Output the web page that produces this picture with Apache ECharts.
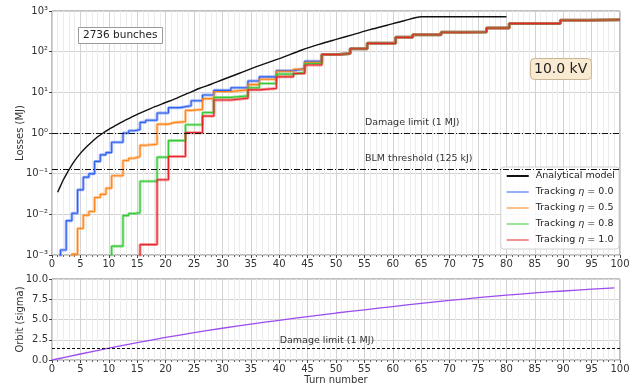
<!DOCTYPE html>
<html>
<head>
<meta charset="utf-8">
<script src="https://cdn.jsdelivr.net/npm/echarts@6/dist/echarts.min.js"></script>
<style>
  html, body { margin: 0; padding: 0; background: #fff; }
  #myChart { width: 634px; height: 390px; }
</style>
</head>
<body>
<div id="myChart"></div>
<script>
// analytical model (turn, MJ)
const modelTurns = [1, 1.5, 2, 2.5, 3, 4, 5, 6, 7, 8, 9, 10, 11, 12, 13, 14, 15, 16, 17, 18, 20, 22, 24, 26, 28, 30, 33, 36, 40, 44, 47, 50, 53, 56, 59, 62, 65, 80]
const modelLoss = [0.035, 0.050, 0.071, 0.095, 0.126, 0.209, 0.316, 0.447, 0.603, 0.794, 1.0, 1.23, 1.48, 1.78, 2.09, 2.45, 2.88, 3.31, 3.80, 4.37, 5.62, 7.24, 9.55, 12.6, 15.8, 20.4, 29.5, 42.7, 67.6, 110, 151, 200, 263, 347, 447, 575, 720, 720]

// tracking: step edges (turn) and losses after the edge (MJ)
const tailEdges = [47.5, 50.5, 52.5, 55.5, 60.5, 63.5, 68.5, 72.5, 76.5, 80.5, 89.5, 94.5, 100]
const tailLoss = [85, 90, 118, 160, 225, 260, 300, 305, 380, 490, 590, 610, 620]

const eta00Edges = [1, 1.5, 2.5, 3.5, 4.5, 5.5, 6.5, 7.5, 8.5, 9.5, 10.5, 12.5, 13.5, 14.5, 15.5, 16.5, 18.5, 20.5, 22.5, 24.5, 26.5, 28.5, 31.5, 34.5, 36.5, 39.5, 42.5, 44.5]
const eta00Loss = [0.0001, 0.00133, 0.007, 0.0106, 0.040, 0.082, 0.099, 0.20, 0.29, 0.33, 0.59, 1.0, 1.14, 1.21, 1.83, 2.05, 3.1, 4.2, 4.7, 6.2, 8.6, 11.2, 13, 19, 24, 34, 38, 58]

const eta05Edges = [3, 3.5, 4.5, 5.5, 6.5, 7.5, 8.5, 9.5, 10.5, 12.5, 13.5, 14.5, 15.5, 16.5, 18.5, 20.5, 21.5, 23.5, 24.5, 26.5, 28.5, 31.5, 34.5, 36.5, 39.5, 42.5, 44.5]
const eta05Loss = [0.0001, 0.00105, 0.0045, 0.0095, 0.0117, 0.026, 0.031, 0.044, 0.089, 0.21, 0.24, 0.265, 0.50, 0.53, 1.65, 1.8, 1.9, 3.6, 3.8, 7.0, 10.5, 11.5, 15.5, 21, 33, 37, 55]

const eta08Edges = [10, 10.5, 12.5, 13.5, 14.5, 15.5, 18.5, 20.5, 23.5, 26.5, 28.5, 31.5, 34.5, 36.5, 39.5, 42.5, 44.5]
const eta08Loss = [0.0001, 0.00165, 0.0093, 0.0105, 0.011, 0.065, 0.255, 0.65, 1.6, 3.2, 7.5, 8.2, 13, 16.5, 28, 31, 51]

const eta10Edges = [15, 15.5, 18.5, 20.5, 23.5, 26.5, 28.5, 31.5, 34.5, 36.5, 39.5, 42.5, 44.5]
const eta10Loss = [0.0001, 0.0018, 0.071, 0.265, 1.02, 2.6, 6.5, 7.2, 11.5, 12.5, 24, 29, 47]

// orbit (turn, sigma)
const orbitTurns = [0, 5, 10, 15, 20, 25, 30, 35, 40, 45, 50, 55, 60, 65, 70, 75, 80, 85, 90, 95, 99]
const orbitSigma = [0, 0.74, 1.46, 2.14, 2.78, 3.37, 3.92, 4.43, 4.9, 5.35, 5.8, 6.2, 6.6, 7.0, 7.35, 7.7, 8.0, 8.28, 8.52, 8.74, 8.9]

const xTicks = 5
const lossLimits = [1, 0.125]
const orbitLimit = 1.5
const font = 'DejaVu Sans'

function pairs (xs, ys) {
  return xs.map((x, i) => [x, ys[i]])
}
function stepData (edges, loss) {
  return pairs(edges.concat(tailEdges), loss.concat(tailLoss))
}
const sup = { '-': '⁻', '0': '⁰', '1': '¹', '2': '²', '3': '³' }
function logLabel (v) {
  let e = Math.round(Math.log10(v)) + ''
  return '10' + e.split('').map(c => sup[c]).join('')
}

const tracks = [
  { name: 'Tracking η = 0.0', color: '#2f5ff2', data: stepData(eta00Edges, eta00Loss) },
  { name: 'Tracking η = 0.5', color: '#ff8418', data: stepData(eta05Edges, eta05Loss) },
  { name: 'Tracking η = 0.8', color: '#35c935', data: stepData(eta08Edges, eta08Loss) },
  { name: 'Tracking η = 1.0', color: '#e8262a', data: stepData(eta10Edges, eta10Loss) }
]

let myChart = echarts.init(document.getElementById('myChart'))

let xAxisBase = function (grid) {
  return {
    type: 'value',
    gridIndex: grid,
    min: 0,
    max: 100,
    interval: xTicks,
    axisLine: { show: false },
    axisTick: { show: true, length: 3, lineStyle: { color: '#444' } },
    minorTick: { show: true, splitNumber: 5, length: 2, lineStyle: { color: '#666' } },
    axisLabel: { color: '#333', fontSize: 10, fontFamily: font, margin: 4 },
    splitLine: { show: true, lineStyle: { color: '#d2d2d2', width: 1 } },
    minorSplitLine: { show: true, lineStyle: { color: '#ececec', width: 1 } }
  }
}

let series = [
  {
    name: 'Analytical model',
    type: 'line',
    xAxisIndex: 0,
    yAxisIndex: 0,
    data: pairs(modelTurns, modelLoss),
    smooth: 0.3,
    symbol: 'none',
    color: '#111',
    lineStyle: { width: 1.4, color: '#111' },
    z: 5,
    markLine: {
      silent: true,
      symbol: 'none',
      label: { show: false },
      lineStyle: { color: '#111', width: 1, type: [6, 2, 1, 2] },
      data: lossLimits.map(v => ({ yAxis: v }))
    },
    markPoint: {
      silent: true,
      symbol: 'rect',
      symbolSize: 1,
      itemStyle: { color: 'rgba(0,0,0,0)' },
      label: {
        show: true,
        position: 'right',
        distance: 0,
        color: '#333',
        fontSize: 9.5,
        fontFamily: font,
        formatter: p => p.name
      },
      data: [
        { name: 'Damage limit (1 MJ)', coord: [55, lossLimits[0]], label: { offset: [0, -10] } },
        { name: 'BLM threshold (125 kJ)', coord: [55, lossLimits[1]], label: { offset: [0, -11] } }
      ]
    }
  }
]

tracks.forEach(t => {
  series.push({
    name: t.name,
    type: 'line',
    xAxisIndex: 0,
    yAxisIndex: 0,
    step: 'end',
    data: t.data,
    symbol: 'none',
    color: t.color,
    lineStyle: { width: 3, color: t.color, opacity: 0.45 },
    z: 3
  })
  series.push({
    name: t.name + ' ',
    type: 'line',
    xAxisIndex: 0,
    yAxisIndex: 0,
    step: 'end',
    data: t.data,
    symbol: 'none',
    color: t.color,
    lineStyle: { width: 1.1, color: t.color },
    z: 4
  })
})

series.push({
  name: 'Orbit',
  type: 'line',
  xAxisIndex: 1,
  yAxisIndex: 1,
  data: pairs(orbitTurns, orbitSigma),
  smooth: 0.3,
  symbol: 'none',
  lineStyle: { width: 1.3, color: '#9d4ced' },
  markLine: {
    silent: true,
    symbol: 'none',
    label: { show: false },
    lineStyle: { color: '#111', width: 1, type: [3, 2] },
    data: [{ yAxis: orbitLimit }]
  },
  markPoint: {
    silent: true,
    symbol: 'rect',
    symbolSize: 1,
    itemStyle: { color: 'rgba(0,0,0,0)' },
    label: {
      show: true,
      position: 'right',
      distance: 0,
      offset: [0, -7],
      color: '#333',
      fontSize: 9.5,
      fontFamily: font,
      formatter: p => p.name
    },
    data: [{ name: 'Damage limit (1 MJ)', coord: [40, orbitLimit] }]
  }
})

myChart.setOption({
  animation: false,
  textStyle: { fontFamily: font },
  title: [
    {
      text: '2736 bunches',
      left: 78,
      top: 27,
      padding: [3, 5],
      borderColor: '#9a9a9a',
      borderWidth: 1,
      backgroundColor: '#fff',
      textStyle: { fontSize: 10.5, fontWeight: 'normal', color: '#222', fontFamily: font }
    },
    {
      text: '10.0 kV',
      left: 530,
      top: 58,
      padding: [4, 4],
      borderRadius: 4,
      borderColor: '#c9b594',
      borderWidth: 1,
      backgroundColor: '#f9ead2',
      textStyle: { fontSize: 14, fontWeight: 'normal', color: '#222', fontFamily: font }
    }
  ],
  legend: {
    data: [{ name: 'Analytical model' }].concat(tracks.map(t => ({ name: t.name, itemStyle: { opacity: 0.5 } }))),
    orient: 'vertical',
    right: 15,
    top: 167,
    icon: 'rect',
    itemWidth: 22,
    itemHeight: 2,
    itemGap: 6,
    padding: [4, 4, 4, 6],
    backgroundColor: 'rgba(255,255,255,0.85)',
    borderColor: '#d0d0d0',
    borderWidth: 1,
    borderRadius: 3,
    textStyle: {
      fontSize: 9.5,
      lineHeight: 10,
      color: '#222',
      fontFamily: font,
      padding: [0, 0, 0, 2],
      rich: { i: { fontStyle: 'italic', fontSize: 9.5, fontFamily: font } }
    },
    formatter: name => name.replace('η', '{i|η}')
  },
  grid: [
    { left: 52, top: 11, width: 568, height: 244, containLabel: false, outerBoundsMode: 'none', show: true, borderColor: '#808080', borderWidth: 1, backgroundColor: '#fff' },
    { left: 52, top: 279, width: 568, height: 81, containLabel: false, outerBoundsMode: 'none', show: true, borderColor: '#808080', borderWidth: 1, backgroundColor: '#fff' }
  ],
  xAxis: [
    xAxisBase(0),
    Object.assign(xAxisBase(1), {
      name: 'Turn number',
      nameLocation: 'middle',
      nameGap: 15,
      nameMoveOverlap: false,
      nameTextStyle: { fontSize: 10, color: '#333', fontFamily: font }
    })
  ],
  yAxis: [
    {
      type: 'log',
      gridIndex: 0,
      logBase: 10,
      min: 0.001,
      max: 1000,
      name: 'Losses (MJ)',
      nameLocation: 'middle',
      nameGap: 27,
      nameMoveOverlap: false,
      nameTextStyle: { fontSize: 10, color: '#333', fontFamily: font },
      axisLine: { show: false },
      axisTick: { show: true, length: 3, lineStyle: { color: '#444' } },
      axisLabel: { color: '#333', fontSize: 10, fontFamily: font, margin: 4, formatter: logLabel },
      splitLine: { show: true, lineStyle: { color: '#d2d2d2' } }
    },
    {
      type: 'value',
      gridIndex: 1,
      min: 0,
      max: 10,
      interval: 2.5,
      name: 'Orbit (sigma)',
      nameLocation: 'middle',
      nameGap: 27,
      nameMoveOverlap: false,
      nameTextStyle: { fontSize: 10, color: '#333', fontFamily: font },
      axisLine: { show: false },
      axisTick: { show: true, length: 3, lineStyle: { color: '#444' } },
      axisLabel: { color: '#333', fontSize: 10, fontFamily: font, margin: 4, formatter: v => v.toFixed(1) },
      splitLine: { show: true, lineStyle: { color: '#d2d2d2' } }
    }
  ],
  series: series
})
</script>
</body>
</html>
